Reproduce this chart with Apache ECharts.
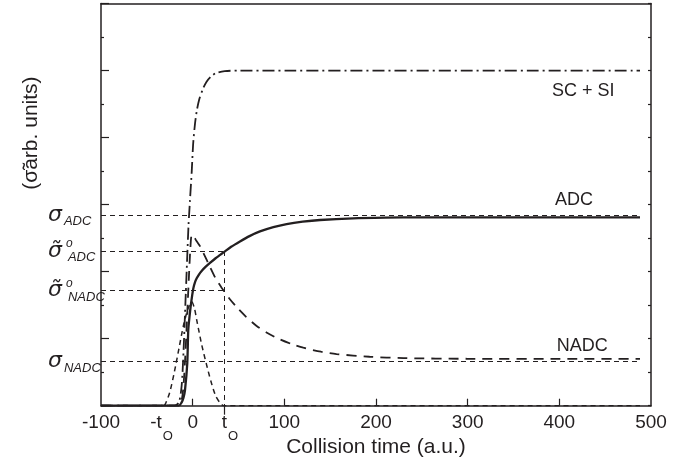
<!DOCTYPE html>
<html><head><meta charset="utf-8">
<script src="https://cdn.jsdelivr.net/npm/echarts@6/dist/echarts.min.js"></script>
<style>html,body{margin:0;padding:0;background:#fff}#c{width:692px;height:468px}</style>
</head><body><div id="c"></div>
<script>
// ---- data ----
const t0 = 34;
const sigmaADC = 2.845, sigma0ADC = 2.308, sigma0NADC = 1.716, sigmaNADC = 0.656;
const xTickValues = [-100, -34, 0, 34, 100, 200, 300, 400, 500];

const scsiTime  = [-100, -20, -15, -12, -10, -8, -6, -4.5, -3, -1, 0.5, 2.5, 4.5, 7, 11, 15, 20, 25, 35, 50, 488];
const scsiValue = [0, 0, 0.05, 0.3, 0.8, 1.5, 2.2, 2.7, 3.05, 3.5, 3.9, 4.2, 4.4, 4.56, 4.72, 4.83, 4.91, 4.96, 4.99, 5.0, 5.0];

const adcTime  = [-100, -15, -12, -10, -8.4, -5.9, -4.8, -3.5, -2.2, -0.5, 0.7, 2.5, 4.4, 7, 9.8, 14, 18.9, 25, 30, 34, 42, 51.6, 62, 73.4, 88, 102.5, 120, 139, 175, 210, 248, 300, 488];
const adcValue = [0, 0, 0.05, 0.12, 0.23, 0.63, 1.13, 1.32, 1.48, 1.65, 1.75, 1.84, 1.90, 1.96, 2.01, 2.07, 2.13, 2.20, 2.25, 2.29, 2.37, 2.45, 2.53, 2.60, 2.665, 2.71, 2.745, 2.77, 2.795, 2.805, 2.81, 2.81, 2.81];

const nadcTime  = [-100, -15, -12, -10, -8, -6, -4, -2.5, -1, 1, 4, 8, 12, 18.9, 25, 31.6, 40, 48, 58, 69.8, 82, 95.2, 108, 120.7, 140, 157, 193, 230, 300, 400, 488];
const nadcValue = [0, 0, 0.08, 0.3, 0.75, 1.35, 1.95, 2.35, 2.55, 2.53, 2.46, 2.38, 2.27, 2.07, 1.90, 1.76, 1.60, 1.47, 1.33, 1.19, 1.08, 0.99, 0.92, 0.865, 0.805, 0.77, 0.73, 0.71, 0.70, 0.70, 0.70];

const gaussTime  = [-100, -32, -30, -25, -20, -15, -10, -5, -1, 2, 4.4, 7, 10, 15, 20, 25, 30, 34, 488];
const gaussValue = [0, 0, 0.02, 0.2, 0.5, 0.85, 1.2, 1.45, 1.55, 1.45, 1.28, 1.1, 0.9, 0.62, 0.36, 0.15, 0.04, 0, 0];

const curveLabels = ['SC + SI', 'ADC', 'NADC'];

// ---- chart ----
const ink = '#231f20';
const pairs = (xs, ys) => xs.map((x, i) => [x, ys[i]]);
const near = (a, b) => Math.abs(a - b) < 1e-6;

const yLabelMap = [
  [sigmaNADC, '{s|σ}{sub|NADC}'],
  [sigma0NADC, '{s|σ\u0303}{sup|o}{sub|NADC}'],
  [sigma0ADC, '{s|σ\u0303}{sup|o}{sub|ADC}'],
  [sigmaADC, '{s|σ}{sub|ADC}']
];

const chart = echarts.init(document.getElementById('c'), null, {renderer: 'canvas'});
const lineBase = {type: 'line', showSymbol: false, symbol: 'none', smooth: 0.25, xAxisIndex: 0, yAxisIndex: 0, animation: false};
const guide = {color: ink, width: 1, type: [5, 4]};

chart.setOption({
  animation: false,
  backgroundColor: '#fff',
  textStyle: {fontFamily: 'Liberation Sans, Arial, sans-serif', color: ink},
  grid: {left: 101, right: 41, top: 3.5, bottom: 62.3, containLabel: false, outerBoundsMode: 'none'},
  xAxis: [
    {
      type: 'value', min: -100, max: 500, position: 'bottom',
      axisLine: {onZero: false, lineStyle: {color: ink, width: 1.5}},
      axisTick: {inside: true, length: 7, customValues: [0, 100, 200, 300, 400], lineStyle: {color: ink, width: 1.2}},
      splitLine: {show: false},
      axisLabel: {
        customValues: xTickValues, margin: 8, color: ink,
        formatter: v => near(v, -t0) ? '{n|-t}{o|O}' : near(v, t0) ? '{tn|t}{o|O}' : '{n|' + v + '}',
        rich: {
          n: {fontSize: 19, lineHeight: 22, verticalAlign: 'top', color: ink, fontFamily: 'Liberation Sans'},
          tn: {fontSize: 19, lineHeight: 22, verticalAlign: 'top', color: ink, fontFamily: 'Liberation Sans', padding: [0, 0, 0, 12]},
          o: {fontSize: 13, lineHeight: 13, verticalAlign: 'top', padding: [16, 0, 0, 1], color: ink, fontFamily: 'Liberation Sans'}
        }
      },
      name: 'Collision time (a.u.)', nameLocation: 'middle', nameGap: 31, nameMoveOverlap: false,
      nameTextStyle: {fontSize: 21, color: ink, fontFamily: 'Liberation Sans'}
    },
    {
      type: 'value', min: -100, max: 500, position: 'top',
      axisLine: {show: true, onZero: false, lineStyle: {color: ink, width: 1.5}},
      axisTick: {show: false}, axisLabel: {show: false}, splitLine: {show: false}
    },
    {
      type: 'value', min: -100, max: 500, position: 'bottom',
      axisLine: {show: false, onZero: false},
      axisTick: {show: true, inside: false, length: 9, customValues: [t0], lineStyle: {color: ink, width: 1.2}},
      axisLabel: {show: false}, splitLine: {show: false}
    }
  ],
  yAxis: [
    {
      type: 'value', min: 0, max: 6, interval: 1, position: 'left',
      axisLine: {show: true, onZero: false, lineStyle: {color: ink, width: 1.5}},
      axisTick: {inside: true, length: 8, lineStyle: {color: ink, width: 1.2}},
      minorTick: {show: true, splitNumber: 2, length: 3, lineStyle: {color: ink, width: 1.2}},
      splitLine: {show: false},
      axisLabel: {
        customValues: yLabelMap.map(d => d[0]), align: 'left', margin: 53, color: ink,
        formatter: v => { const f = yLabelMap.find(d => near(d[0], v)); return f ? f[1] : ''; },
        rich: {
          s: {fontFamily: 'DejaVu Sans', fontStyle: 'italic', fontSize: 22, lineHeight: 26, verticalAlign: 'middle', color: ink},
          sub: {fontFamily: 'Liberation Sans', fontStyle: 'italic', fontSize: 13, lineHeight: 12, verticalAlign: 'bottom', color: ink, padding: [0, 0, 0, 2]},
          sup: {fontFamily: 'Liberation Sans', fontStyle: 'italic', fontSize: 12, lineHeight: 12, verticalAlign: 'top', color: ink, width: 0, padding: [0, 0, 0, 4]}
        }
      },
      name: '(σ\u0303arb. units)', nameLocation: 'middle', nameGap: 59, nameRotate: 90, nameMoveOverlap: false,
      nameTextStyle: {fontSize: 21, color: ink, fontFamily: 'Liberation Sans', padding: [0, 0, 0, 143]}
    },
    {
      type: 'value', min: 0, max: 6, interval: 0.5, position: 'right',
      axisLine: {show: true, onZero: false, lineStyle: {color: ink, width: 1.5}},
      axisTick: {inside: true, length: 3, lineStyle: {color: ink, width: 1.2}},
      axisLabel: {show: false}, splitLine: {show: false}
    }
  ],
  series: [
    Object.assign({}, lineBase, {
      name: 'SC + SI', data: pairs(scsiTime, scsiValue), z: 3,
      lineStyle: {color: ink, width: 1.8, type: [12, 4, 2, 4]},
      markPoint: {symbolSize: 0, silent: true, label: {show: true, position: 'inside', fontSize: 18, color: ink, fontFamily: 'Liberation Sans', formatter: curveLabels[0]},
        data: [{coord: [426, 4.69]}]}
    }),
    Object.assign({}, lineBase, {
      name: 'NADC', data: pairs(nadcTime, nadcValue), z: 3,
      lineStyle: {color: ink, width: 1.8, type: [10, 7]},
      markPoint: {symbolSize: 0, silent: true, label: {show: true, position: 'inside', fontSize: 18, color: ink, fontFamily: 'Liberation Sans', formatter: curveLabels[2]},
        data: [{coord: [425, 0.89]}]}
    }),
    Object.assign({}, lineBase, {
      name: 'gauss', data: pairs(gaussTime, gaussValue), z: 3,
      lineStyle: {color: ink, width: 1.5, type: [5, 4]}
    }),
    Object.assign({}, lineBase, {
      name: 'ADC', data: pairs(adcTime, adcValue), z: 4,
      lineStyle: {color: ink, width: 2.3, type: 'solid'},
      markPoint: {symbolSize: 0, silent: true, label: {show: true, position: 'inside', fontSize: 18, color: ink, fontFamily: 'Liberation Sans', formatter: curveLabels[1]},
        data: [{coord: [416, 3.07]}]},
      markLine: {
        silent: true, symbol: 'none', label: {show: false}, lineStyle: guide,
        data: [
          [{coord: [-100, sigmaADC]}, {coord: [488, sigmaADC]}],
          [{coord: [-100, sigma0ADC]}, {coord: [t0, sigma0ADC]}],
          [{coord: [-100, sigma0NADC]}, {coord: [t0, sigma0NADC]}],
          [{coord: [-100, sigmaNADC]}, {coord: [488, sigmaNADC]}],
          [{coord: [t0, sigma0ADC]}, {coord: [t0, 0]}]
        ]
      }
    })
  ]
});
</script></body></html>
